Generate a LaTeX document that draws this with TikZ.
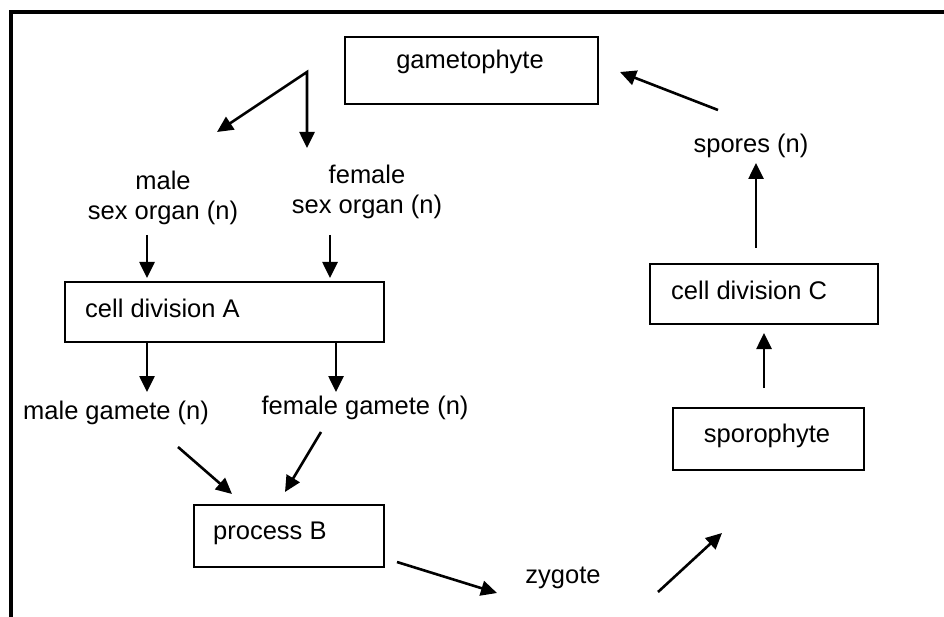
\documentclass[tikz,border=0pt]{standalone}
\usepackage{fontspec}
\setmainfont{Liberation Sans}
\usetikzlibrary{arrows.meta}
\begin{document}
\begin{tikzpicture}[x=1pt,y=-1pt,
  box/.style={draw, line width=1.6pt, inner sep=0pt, anchor=north west},
  lbl/.style={font=\fontsize{25.5}{30}\selectfont, inner sep=0pt, align=center},
  arr/.style={line width=2.6pt, -{Triangle[length=16pt,width=15pt]}},
  frame/.style={line width=4pt}
]
\useasboundingbox (0,0) rectangle (944,617);
% frame
\coordinate (f1) at (944,12);
\coordinate (f2) at (11,12);
\coordinate (f3) at (11,617);
\draw[frame] (f1) -- (f2) -- (f3);

% boxes
\node[box, minimum width=253, minimum height=67] (gam) at (344,36) {};
\node[box, minimum width=319, minimum height=60] (cda) at (64,281) {};
\node[box, minimum width=228, minimum height=60] (cdc) at (649,263) {};
\node[box, minimum width=191, minimum height=62] (spo) at (672,407) {};
\node[box, minimum width=190, minimum height=62] (prb) at (193,504) {};

% texts
\node[lbl] (gamt) at (470,62) {gametophyte};
\node[lbl] (male) at (163,198) {male\\sex organ (n)};
\node[lbl] (female) at (367,192) {female\\sex organ (n)};
\node[lbl, anchor=west] (cdat) at (85,308) {cell division A};
\node[lbl] (mg) at (116,413) {male gamete (n)};
\node[lbl] (fg) at (365,408) {female gamete (n)};
\node[lbl, anchor=west] (prbt) at (213,533) {process B};
\node[lbl] (zyg) at (563,578) {zygote};
\node[lbl, anchor=west] (cdct) at (671,290) {cell division C};
\node[lbl] (spot) at (767,436) {sporophyte};
\node[lbl] (spr) at (751,146) {spores (n)};

% arrow end points
\coordinate (fork) at (307,72);
\coordinate (a1) at (217,132);
\coordinate (a2) at (307,148);
\coordinate (b1) at (147,235); \coordinate (b2) at (147,278);
\coordinate (c1) at (330,235); \coordinate (c2) at (330,278);
\coordinate (d1) at (147,342); \coordinate (d2) at (147,392);
\coordinate (e1) at (336,342); \coordinate (e2) at (336,392);
\coordinate (g1) at (178,447); \coordinate (g2) at (232,494);
\coordinate (h1) at (321,432); \coordinate (h2) at (285,492);
\coordinate (i1) at (397,562); \coordinate (i2) at (497,593);
\coordinate (j1) at (658,592); \coordinate (j2) at (722,533);
\coordinate (k1) at (764,388); \coordinate (k2) at (764,333);
\coordinate (l1) at (756,248); \coordinate (l2) at (756,163);
\coordinate (m1) at (718,110); \coordinate (m2) at (620,72);

\draw[arr, {Triangle[length=16pt,width=15pt]}-{Triangle[length=16pt,width=15pt]}] (a1) -- (fork) -- (a2);
\draw[arr] (b1) -- (b2);
\draw[arr] (c1) -- (c2);
\draw[arr] (d1) -- (d2);
\draw[arr] (e1) -- (e2);
\draw[arr] (g1) -- (g2);
\draw[arr] (h1) -- (h2);
\draw[arr] (i1) -- (i2);
\draw[arr] (j1) -- (j2);
\draw[arr] (k1) -- (k2);
\draw[arr] (l1) -- (l2);
\draw[arr] (m1) -- (m2);
\end{tikzpicture}
\end{document}
